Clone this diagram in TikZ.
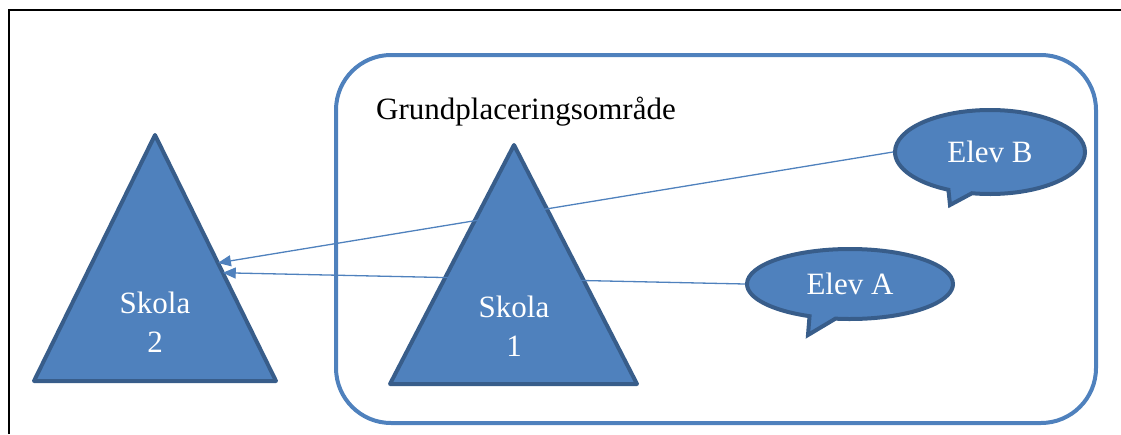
\documentclass[tikz,border=0pt]{standalone}
\usepackage{fontspec}
\setmainfont{Liberation Serif}
\usetikzlibrary{shapes.callouts}
\usetikzlibrary{arrows.meta}
\usetikzlibrary{calc}
\definecolor{skolablue}{HTML}{4F81BD}
\definecolor{skolaedge}{HTML}{385D8A}

\begin{document}
\begin{tikzpicture}[x=1pt, y=-1pt, font=\fontsize{31}{39}\selectfont,
  skola/.style={fill=skolablue, draw=skolaedge, line width=4pt, line join=round},
  elev/.style={ellipse callout, fill=skolablue, draw=skolaedge, line width=4pt,
    inner sep=0pt, text=white},
  flytt/.style={draw=skolablue, line width=1.3pt,
    -{Triangle[length=13pt,width=11pt]}}]
\useasboundingbox (0,0) rectangle (1121,434);
\draw[line width=2pt] (9,434) -- (9,10) -- (1121,10);
\draw[skolablue, line width=4pt, rounded corners=55pt] (336,55) rectangle (1096,423);
\node[anchor=west, inner sep=0pt] (omrade) at (376,112) {Grundplaceringsområde};
\coordinate (s2top) at (155,135);
\coordinate (s2left) at (34,381);
\coordinate (s2right) at (276,381);
\coordinate (s1top) at (514,145);
\coordinate (s1left) at (390,384);
\coordinate (s1right) at (637,384);
\draw[skola] (s2top) -- (s2right) -- (s2left) -- cycle
             (s1top) -- (s1right) -- (s1left) -- cycle;
\node[text=white, align=center] (skola2) at (155,322) {Skola\\2};
\node[text=white, align=center] (skola1) at (514,326) {Skola\\1};
\coordinate (tailB) at (950,205);
\coordinate (tailA) at (808,335);
\node[elev, minimum width=190pt, minimum height=84pt,
  callout absolute pointer=(tailB)] (elevB) at (990,152) {Elev B};
\node[elev, minimum width=206pt, minimum height=70pt,
  callout absolute pointer=(tailA)] (elevA) at (850,284) {Elev A};
\coordinate (s2b) at ($(s2top)!0.52!(s2right)$);
\coordinate (s2a) at ($(s2top)!0.56!(s2right)$);
\draw[flytt] (elevB.west) -- (s2b);
\draw[flytt] (elevA.west) -- (s2a);
\end{tikzpicture}
\end{document}
